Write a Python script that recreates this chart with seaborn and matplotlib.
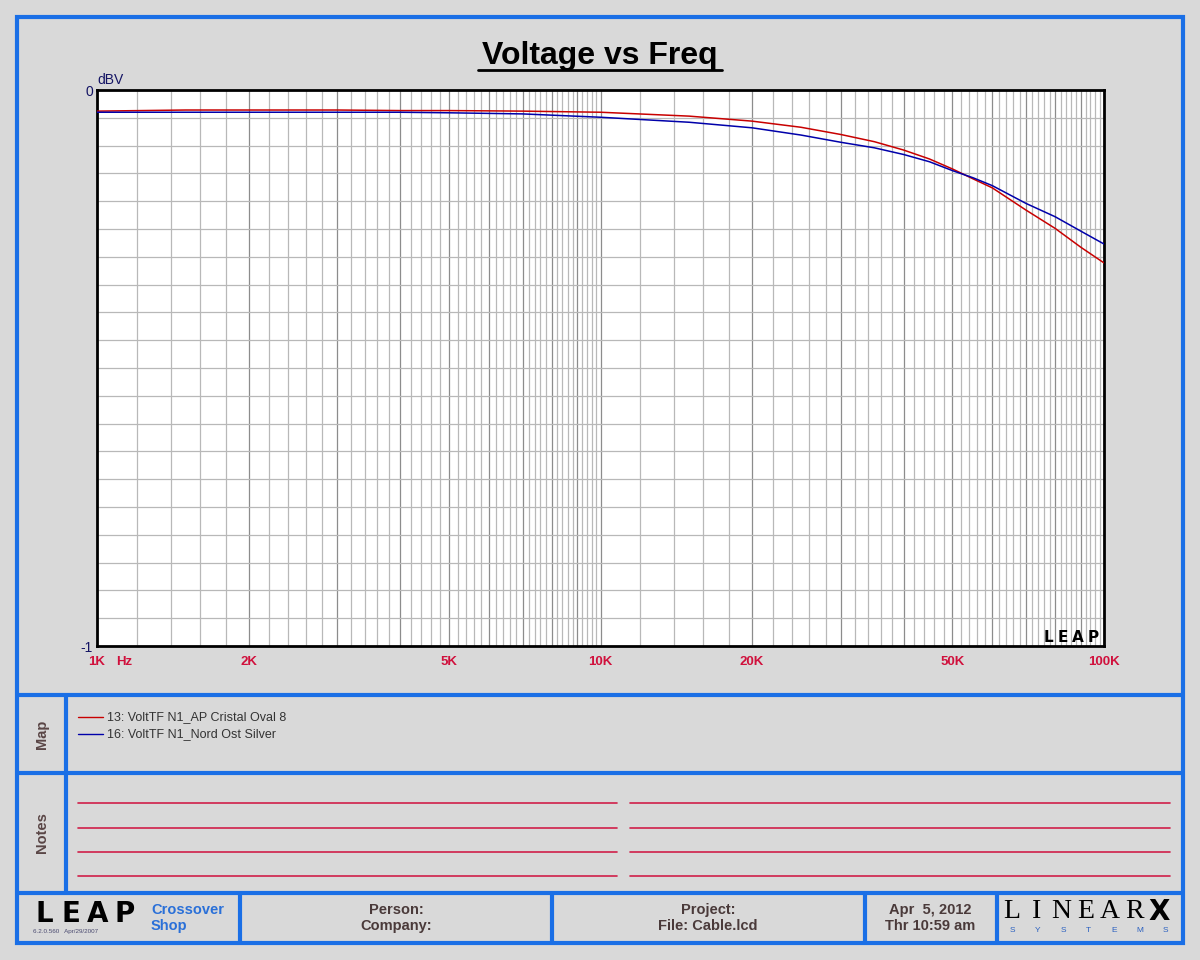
import numpy as np
import pandas as pd
import matplotlib
matplotlib.use("Agg")
import matplotlib.pyplot as plt
import seaborn as sns
from matplotlib.patches import Rectangle

# data
freq_hz = [1000, 1500, 2000, 3000, 4000, 5000, 7000, 10000, 15000, 20000, 25000,
           30000, 35000, 40000, 45000, 50000, 55000, 60000, 70000, 80000, 90000, 100000]
red_dbv = [-0.038, -0.036, -0.036, -0.036, -0.037, -0.037, -0.038, -0.040, -0.047, -0.056, -0.067,
           -0.080, -0.093, -0.108, -0.124, -0.142, -0.160, -0.176, -0.216, -0.249, -0.283, -0.311]
blue_dbv = [-0.040, -0.040, -0.040, -0.040, -0.040, -0.041, -0.043, -0.049, -0.058, -0.068, -0.081,
            -0.094, -0.104, -0.116, -0.129, -0.145, -0.158, -0.172, -0.204, -0.228, -0.254, -0.277]
series_names = ["13: VoltTF N1_AP Cristal Oval 8", "16: VoltTF N1_Nord Ost Silver"]
series_colors = ["#c80000", "#0000aa"]
x_tick_values = [1000, 2000, 5000, 10000, 20000, 50000, 100000]
x_tick_labels = ["1K", "2K", "5K", "10K", "20K", "50K", "100K"]

sns.set_style("white")
plt.rcParams['font.family'] = ['Liberation Sans', 'DejaVu Sans']

W, H = 1200, 960
BG = "#d9d9d9"
FRAME = "#1a6fe6"
LABEL_RED = "#d0103c"
fig = plt.figure(figsize=(12, 9.6), dpi=100, facecolor=BG)

# overlay in pixel coordinates for the page furniture
bg = fig.add_axes([0, 0, 1, 1], zorder=0)
bg.set_xlim(0, W)
bg.set_ylim(H, 0)
bg.axis("off")
bg.patch.set_alpha(0)

bw = 3.0
bg.add_patch(Rectangle((17, 17), 1166, 926, fill=False, ec=FRAME, lw=bw))
for yy in [695, 773, 893]:
    bg.plot([17, 1183], [yy, yy], color=FRAME, lw=bw)
bg.plot([66, 66], [695, 893], color=FRAME, lw=bw)
for xx in [240, 552, 865, 997]:
    bg.plot([xx, xx], [893, 943], color=FRAME, lw=bw)

# title with underline
bg.text(600, 64, "Voltage vs Freq", ha="center", va="baseline", fontsize=23,
        fontweight="bold", color="black")
bg.plot([478, 722], [70, 70], color="black", lw=2)

# Map panel
bg.text(42, 734, "Map", rotation=90, ha="center", va="center", fontsize=10.5,
        fontweight="bold", color="#5a4646")
for i, (name, col) in enumerate(zip(series_names, series_colors)):
    yy = 717 + i * 17
    bg.plot([78, 103], [yy, yy], color=col, lw=1)
    bg.text(107, yy, name, ha="left", va="center", fontsize=9, color="#333333")

# Notes panel
bg.text(42, 833, "Notes", rotation=90, ha="center", va="center", fontsize=10.5,
        fontweight="bold", color="#5a4646")
for yy in [803, 828, 852, 876]:
    bg.plot([78, 617], [yy, yy], color="#d0204a", lw=1.2)
    bg.plot([630, 1170], [yy, yy], color="#d0204a", lw=1.2)

# footer
for i, ch in enumerate("LEAP"):
    bg.text(44 + i * 27, 914, ch, ha="center", va="center", fontsize=20,
            fontweight="heavy", family="DejaVu Sans", color="black")
bg.text(33, 932, "6.2.0.560   Apr/29/2007", ha="left", va="center", fontsize=4.5,
        color="#4a4a70")
bg.text(151, 918, "Crossover\nShop", ha="left", va="center", fontsize=10.5,
        fontweight="bold", color="#2a70d8", linespacing=1.25)
bg.text(396, 918, "Person:\nCompany:", ha="center", va="center", fontsize=10.5,
        fontweight="bold", color="#4a3a3a", linespacing=1.25)
bg.text(708, 918, "Project:\nFile: Cable.lcd", ha="center", va="center", fontsize=10.5,
        fontweight="bold", color="#4a3a3a", linespacing=1.25)
bg.text(930, 918, "Apr  5, 2012\nThr 10:59 am", ha="center", va="center", fontsize=10.5,
        fontweight="bold", color="#4a3a3a", linespacing=1.25)
for i, ch in enumerate("LINEAR"):
    bg.text(1012 + i * 24.5, 912, ch, ha="center", va="center", fontsize=20,
            family="Liberation Serif", color="black")
bg.text(1159, 912, "X", ha="center", va="center", fontsize=20, fontweight="heavy",
        family="DejaVu Sans", color="black")
for i, ch in enumerate("SYSTEMS"):
    bg.text(1012 + i * 25.5, 931, ch, ha="center", va="center", fontsize=6,
            color="#2a60c0")

# main plot
ax = fig.add_axes([97 / W, 1 - 646 / H, (1104 - 97) / W, (646 - 90) / H], zorder=1)
ax.set_facecolor("white")

df = pd.DataFrame({
    "freq": freq_hz * 2,
    "dbv": red_dbv + blue_dbv,
    "series": [series_names[0]] * len(freq_hz) + [series_names[1]] * len(freq_hz),
})
sns.lineplot(data=df, x="freq", y="dbv", hue="series", palette=series_colors,
             legend=False, lw=1.1, ax=ax, zorder=3)

ax.set_xscale("log")
ax.set_xlim(1000, 100000)
ax.set_ylim(-1, 0)

# grid: darker at integer multiples, lighter at 0.2 steps
major_grid = [m * 10 ** d for d in (3, 4) for m in range(1, 10)] + [100000]
minor_grid = [round(m * 10 ** d) for d in (3, 4) for m in np.arange(1.2, 10, 0.2)
              if abs(m - round(m)) > 1e-6]
for xv in minor_grid:
    ax.axvline(xv, color="#b8b8b8", lw=0.9, zorder=1)
for xv in major_grid:
    ax.axvline(xv, color="#8c8c8c", lw=0.9, zorder=1)
for yv in np.arange(-0.95, 0, 0.05):
    ax.axhline(yv, color="#b8b8b8", lw=0.9, zorder=1)

ax.set_xticks(x_tick_values)
ax.set_xticklabels(x_tick_labels)
ax.xaxis.set_minor_locator(matplotlib.ticker.NullLocator())
ax.tick_params(axis="x", length=0, pad=7, labelsize=9.5, labelcolor=LABEL_RED)
for lab in ax.get_xticklabels():
    lab.set_fontweight("bold")
ax.set_yticks([-1, 0])
ax.set_yticklabels(["-1", "0"])
ax.tick_params(axis="y", length=0, pad=3, labelsize=10, labelcolor="#141464")
ax.set_xlabel("")
ax.set_ylabel("")
for sp in ax.spines.values():
    sp.set_visible(True)
    sp.set_color("black")
    sp.set_linewidth(2)

bg.text(116, 665, "Hz", ha="left", va="baseline", fontsize=9.5, fontweight="bold",
        color=LABEL_RED)
ax.text(0.0, 1.006, "dBV", transform=ax.transAxes, ha="left", va="bottom",
        fontsize=10, color="#141464")
for i, ch in enumerate("LEAP"):
    ax.text(1048 + i * 15, 638, ch, transform=bg.transData, ha="center", va="center",
            fontsize=11, fontweight="heavy", family="DejaVu Sans", color="black", zorder=4)

fig.savefig("out.png", dpi=100, facecolor=BG)
